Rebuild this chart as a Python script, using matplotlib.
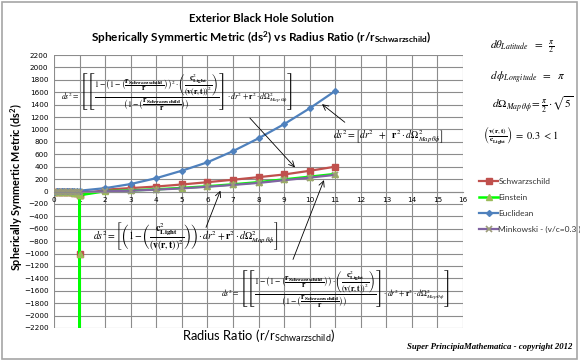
import matplotlib
matplotlib.use("Agg")
import matplotlib.pyplot as plt
from matplotlib.patches import Rectangle

plt.rcParams['mathtext.fontset'] = 'stix'

# ---- data ----
x_schw = [0, 0.1, 0.2, 0.3, 0.4, 0.5, 0.6, 0.7, 0.8, 0.9, 1, 1, 1, 2, 3, 4, 5, 6, 7, 8, 9, 10, 11]
y_schw = [0, -2, -4, -6, -8, -10, -12, -15, -20, -30, -60, -1000, -60, 30, 55, 80, 113, 150, 189, 231, 274, 334, 400]

x_ein = [0, 0.1, 0.2, 0.3, 0.4, 0.5, 0.6, 0.7, 0.8, 0.9, 1, 1, 1, 1, 2, 3, 4, 5, 6, 7, 8, 9, 10, 11]
y_ein = [0, -1, -3, -5, -7, -9, -11, -14, -18, -25, -60, -1000, -100000, -60, 5, 17, 35, 57, 84, 115, 150, 195, 238, 282]

x_euc = [0, 0.1, 0.2, 0.3, 0.4, 0.5, 0.6, 0.7, 0.8, 0.9, 1, 2, 3, 4, 5, 6, 7, 8, 9, 10, 11]
y_euc = [0, 0.1, 0.5, 1.2, 2.1, 3.4, 4.8, 6.6, 8.6, 10.9, 13, 54, 120, 215, 335, 470, 650, 857, 1085, 1340, 1620]

x_min = [0, 0.1, 0.2, 0.3, 0.4, 0.5, 0.6, 0.7, 0.8, 0.9, 1, 2, 3, 4, 5, 6, 7, 8, 9, 10, 11]
y_min = [0, -2, -3, -4, -5, -6, -7, -8, -9, -10, -8, 3, 13, 30, 50, 76, 106, 138, 182, 224, 268]

series_names = ["Schwarzschild", "Einstein", "Euclidean", "Minkowski - (v/c=0.3 )"]
x_ticks = list(range(0, 17))
y_ticks = list(range(-2200, 2201, 200))

W, H = 580, 361
fig = plt.figure(figsize=(5.8, 3.61), dpi=100)
fig.patch.set_facecolor('white')
fig.add_artist(Rectangle((0.004, 0.005), 0.99, 0.99, transform=fig.transFigure,
                         fill=False, ec='#a6a6a6', lw=1.2))

def fx(px):
    return px / W

def fy(py):
    return 1 - py / H

ax = fig.add_axes([fx(54), fy(328), (463 - 54) / W, (328 - 55) / H])
ax.set_xlim(0, 16)
ax.set_ylim(-2200, 2200)
ax.set_xticks(x_ticks)
ax.set_yticks(y_ticks)
ax.grid(True, color='#8c8c8c', lw=0.8)
ax.set_axisbelow(True)
for s in ['top', 'right', 'left']:
    ax.spines[s].set_visible(False)
ax.spines['bottom'].set_position(('data', 0))
ax.spines['bottom'].set_color('#8c8c8c')
ax.tick_params(axis='both', length=0, labelsize=5.2, pad=4)
ax.tick_params(axis='x', pad=4)

ax.plot(x_schw, y_schw, color='#C0504D', lw=1.6, marker='s', ms=4.5, label=series_names[0])
ax.plot(x_ein, y_ein, color='#00FF00', lw=1.8, marker='^', ms=4.5, mfc='#9BBB59', mec='#9BBB59', label=series_names[1])
ax.plot(x_euc, y_euc, color='#4F81BD', lw=1.6, marker='D', ms=3, label=series_names[2])
ax.plot(x_min, y_min, color='#8064A2', lw=1.6, marker='x', ms=4.5, mec='#9b9b7a', mew=1.2, label=series_names[3])

leg = fig.legend(loc='upper left', bbox_to_anchor=(fx(476), fy(175)), frameon=False,
                 prop={'family': 'Lato', 'size': 6}, handlelength=2.2, handletextpad=0.1,
                 labelspacing=1.05, borderaxespad=0)
for t in leg.get_texts():
    t.set_color('#333333')

fig.text(fx(261), fy(18), "Exterior Black Hole Solution", ha='center', va='center',
         fontsize=8.3, family='Lato', weight='bold')
fig.text(fx(261), fy(37), r"Spherically Symmertic Metric (ds$^\mathregular{2}$) vs Radius Ratio (r/r$_\mathregular{Schwarzschild}$)",
         ha='center', va='center', fontsize=8.5, family='Lato', weight='bold')

fig.text(fx(16), fy(187), r"Spherically Symmertic Metric (ds$^\mathregular{2}$)", rotation=90,
         ha='center', va='center', fontsize=7.8, weight='bold', family='Lato')
fig.text(fx(259), fy(336), r"Radius Ratio (r/r$_\mathregular{Schwarzschild}$)", ha='center', va='center',
         fontsize=9.3, family='Lato')
fig.text(fx(572), fy(347), "Super PrincipiaMathematica - copyright 2012", ha='right', va='center',
         fontsize=6.3, family='Liberation Serif', style='italic', weight='bold')

# formulas
f1 = (r"$ds^2=\left[\left[\dfrac{1-\left(1-\left(\dfrac{\mathbf{r}_{\mathbf{Schwarzschild}}}{\mathbf{r}}\right)\right)^2\cdot\left(\dfrac{\mathbf{c}^2_{\mathbf{Light}}}{(\mathbf{v}(\mathbf{r},\mathbf{t}))^2}\right)}"
      r"{\left(1-\left(\dfrac{\mathbf{r}_{\mathbf{Schwarzschild}}}{\mathbf{r}}\right)\right)}\right]\cdot dr^2+\mathbf{r}^2\cdot d\Omega^2_{Map\,\theta\phi}\right]$")
f4 = (r"$ds^2=\left[\left[\dfrac{1-\left(1-\left(\dfrac{\mathbf{r}_{\mathbf{Schwarzschild}}}{\mathbf{r}}\right)\right)\cdot\left(\dfrac{\mathbf{c}^2_{\mathbf{Light}}}{(\mathbf{v}(\mathbf{r},\mathbf{t}))^2}\right)}"
      r"{\left(1-\left(\dfrac{\mathbf{r}_{\mathbf{Schwarzschild}}}{\mathbf{r}}\right)\right)}\right]\cdot dr^2+\mathbf{r}^2\cdot d\Omega^2_{Map\,\theta\phi}\right]$")
f2 = r"$ds^2=\left[dr^2\ \ +\ \ \mathbf{r}^2\cdot d\Omega^2_{Map\,\theta\phi}\right]$"
f3 = (r"$ds^2=\left[\left(1-\left(\dfrac{\mathbf{c}^2_{\mathbf{Light}}}{(\mathbf{v}(\mathbf{r},\mathbf{t}))^2}\right)\right)\cdot dr^2+\mathbf{r}^2\cdot d\Omega^2_{Map\,\theta\phi}\right]$")

fig.text(fx(61), fy(92), f1, ha='left', va='center', fontsize=5.6)
fig.text(fx(221), fy(289), f4, ha='left', va='center', fontsize=5.6)
fig.text(fx(333), fy(137), f2, ha='left', va='center', fontsize=7)
fig.text(fx(93), fy(236), f3, ha='left', va='center', fontsize=7)

fig.text(fx(490), fy(47), r"$d\theta_{Latitude}\ \ =\ \ \frac{\pi}{2}$", ha='left', va='center', fontsize=8)
fig.text(fx(490), fy(78), r"$d\,\phi_{Longitude}\ \ =\ \ \pi$", ha='left', va='center', fontsize=8)
fig.text(fx(492), fy(105), r"$d\Omega_{Map\,\theta\phi}=\frac{\pi}{2}\cdot\sqrt{5}$", ha='left', va='center', fontsize=8)
fig.text(fx(483), fy(136), r"$\left(\frac{\mathbf{v}(\mathbf{r},\mathbf{t})}{\mathbf{c}_{\mathbf{Light}}}\right)\ =\ 0.3\ <1$", ha='left', va='center', fontsize=7.5)

arrow = dict(arrowstyle='->', color='black', lw=0.6)
ax.annotate("", xy=(9.5, 355), xytext=(fx(248), fy(116)), textcoords='figure fraction', arrowprops=arrow)
ax.annotate("", xy=(10.4, 1435), xytext=(fx(347), fy(124)), textcoords='figure fraction', arrowprops=arrow)
ax.annotate("", xy=(6.55, 55), xytext=(fx(205), fy(230)), textcoords='figure fraction', arrowprops=arrow)
ax.annotate("", xy=(10.6, 225), xytext=(fx(292), fy(262)), textcoords='figure fraction', arrowprops=arrow)

fig.savefig("out.png", dpi=100, facecolor='white')
